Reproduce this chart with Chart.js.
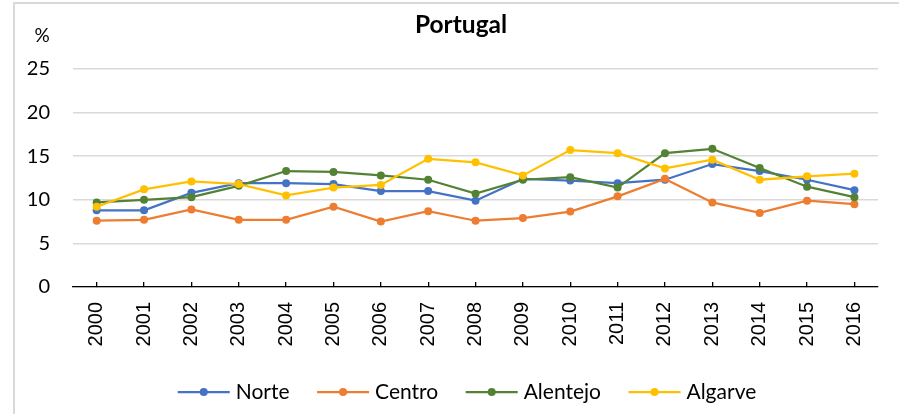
<!DOCTYPE html>
<html lang="pt">
<head>
<meta charset="UTF-8" />
<title>Portugal</title>
<script src="https://cdn.jsdelivr.net/npm/chart.js"></script>
<style>
    html, body { margin: 0; padding: 0; background: #fff; }
    #wrap { position: relative; width: 899px; height: 414px; overflow: hidden; }
    #frame { position: absolute; left: 13px; top: 2px; width: 1000px; height: 1000px; border: 2px solid #d9d9d9; }
    #chart { position: absolute; left: 0; top: 0; }
</style>
</head>
<body>
<div id="wrap">
    <div id="frame"></div>
    <canvas id="chart" width="899" height="414"></canvas>
</div>
<script>
    // dados (%)
    const years = ['2000', '2001', '2002', '2003', '2004', '2005', '2006', '2007', '2008',
        '2009', '2010', '2011', '2012', '2013', '2014', '2015', '2016'];
    const norte = [8.8, 8.8, 10.8, 11.9, 11.9, 11.8, 11.0, 11.0, 9.9, 12.4, 12.2, 11.9, 12.3, 14.1, 13.3, 12.3, 11.1];
    const centro = [7.6, 7.7, 8.9, 7.7, 7.7, 9.2, 7.5, 8.7, 7.6, 7.9, 8.65, 10.4, 12.4, 9.7, 8.5, 9.9, 9.5];
    const alentejo = [9.7, 10.0, 10.3, 11.6, 13.3, 13.2, 12.8, 12.3, 10.7, 12.3, 12.6, 11.4, 15.35, 15.85, 13.65, 11.5, 10.3];
    const algarve = [9.2, 11.2, 12.1, 11.8, 10.5, 11.4, 11.7, 14.7, 14.3, 12.8, 15.7, 15.35, 13.6, 14.6, 12.3, 12.7, 13.0];
    const seriesNames = ['Norte', 'Centro', 'Alentejo', 'Algarve'];
    const seriesColors = ['#4472C4', '#ED7D31', '#548235', '#FFC000'];
    const yTicks = [0, 5, 10, 15, 20, 25];

    const calibri = 'Lato, "Open Sans", sans-serif';

    function makeSet(i, data) {
        return {
            label: seriesNames[i],
            data: data,
            borderColor: seriesColors[i],
            backgroundColor: seriesColors[i],
            borderWidth: 2.25,
            pointRadius: 4,
            pointBorderWidth: 0,
            pointHoverRadius: 4,
            tension: 0,
            order: 3 - i // Excel desenha a última série por cima
        };
    }

    // legenda estilo Excel (linha com marcador)
    const excelLegend = {
        id: 'excelLegend',
        afterDraw(chart) {
            const ctx = chart.ctx;
            ctx.save();
            ctx.font = '21px ' + calibri;
            ctx.textBaseline = 'middle';
            ctx.fillStyle = '#000';
            const symW = 52, gapText = 6, gapItem = 27.5;
            let total = 0;
            seriesNames.forEach((n, i) => {
                total += symW + gapText + ctx.measureText(n).width + (i < seriesNames.length - 1 ? gapItem : 0);
            });
            let x = 467 - total / 2;
            const y = 392;
            seriesNames.forEach((n, i) => {
                ctx.strokeStyle = seriesColors[i];
                ctx.lineWidth = 2.25;
                ctx.beginPath();
                ctx.moveTo(x, y);
                ctx.lineTo(x + symW, y);
                ctx.stroke();
                ctx.fillStyle = seriesColors[i];
                ctx.beginPath();
                ctx.arc(x + symW / 2, y, 4, 0, Math.PI * 2);
                ctx.fill();
                ctx.fillStyle = '#000';
                ctx.fillText(n, x + symW + gapText, y);
                x += symW + gapText + ctx.measureText(n).width + gapItem;
            });
            ctx.restore();
        }
    };

    // símbolo "%" por cima do eixo vertical; título ligeiramente à direita, como no Excel
    const unitLabel = {
        id: 'unitLabel',
        afterLayout(chart) {
            if (chart.titleBlock) chart.titleBlock.left = 43;
        },
        afterDraw(chart) {
            const ctx = chart.ctx;
            ctx.save();
            ctx.font = '19px ' + calibri;
            ctx.fillStyle = '#000';
            ctx.textAlign = 'center';
            ctx.textBaseline = 'middle';
            ctx.fillText('%', 42, chart.scales.y.top - 33);
            ctx.restore();
        }
    };

    new Chart(document.getElementById('chart'), {
        type: 'line',
        data: {
            labels: years,
            datasets: [makeSet(0, norte), makeSet(1, centro), makeSet(2, alentejo), makeSet(3, algarve)]
        },
        plugins: [excelLegend, unitLabel],
        options: {
            responsive: false,
            animation: false,
            layout: { padding: { left: 0, right: 20, top: 0, bottom: 42 } },
            plugins: {
                legend: { display: false },
                tooltip: { enabled: false },
                title: {
                    display: true,
                    text: 'Portugal',
                    color: '#000',
                    font: { family: calibri, size: 24.5, weight: 'bold' },
                    padding: { top: 10, bottom: 29.6 }
                }
            },
            scales: {
                x: {
                    offset: true,
                    grid: {
                        drawOnChartArea: false,
                        offset: false,
                        tickLength: -5,
                        color: '#000',
                        lineWidth: 1.3
                    },
                    border: { display: true, color: '#000', width: 1.3 },
                    ticks: {
                        minRotation: 90,
                        maxRotation: 90,
                        autoSkip: false,
                        padding: 20,
                        color: '#000',
                        font: { family: '"Liberation Sans", Arial, sans-serif', size: 20 }
                    },
                    afterFit(scale) { scale.height = 85; }
                },
                y: {
                    min: 0,
                    max: 25,
                    afterBuildTicks(scale) { scale.ticks = yTicks.map(v => ({ value: v })); },
                    grid: { color: '#d9d9d9', lineWidth: 1.5, drawTicks: false },
                    border: { display: false },
                    ticks: {
                        padding: 23,
                        color: '#000',
                        font: { family: calibri, size: 20 }
                    },
                    afterFit(scale) { scale.width = 73; }
                }
            }
        }
    });
</script>
</body>
</html>
